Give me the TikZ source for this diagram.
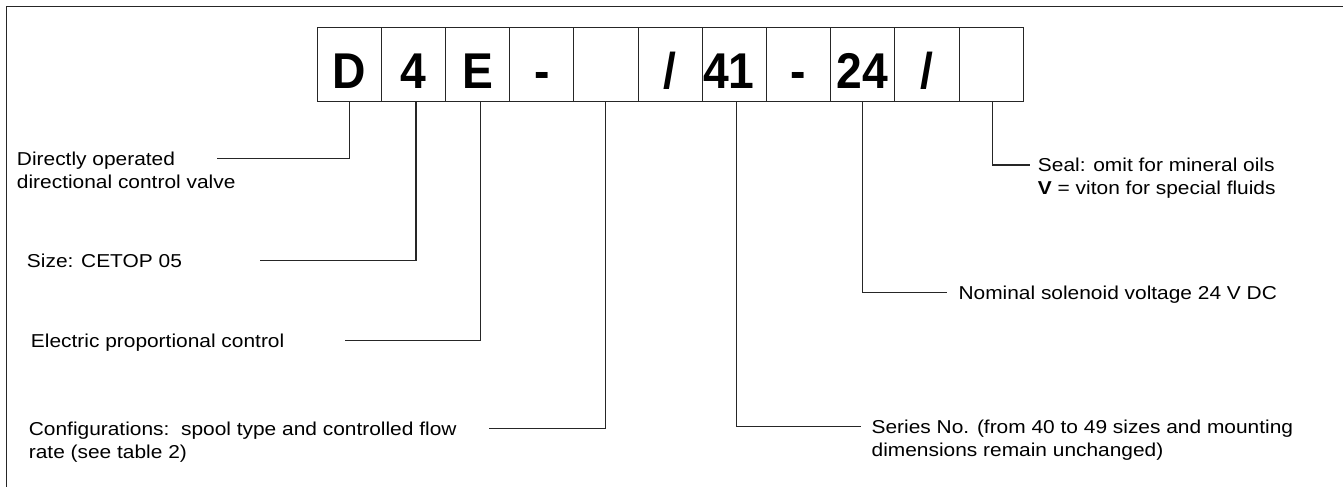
\documentclass[tikz,border=0pt]{standalone}
\usepackage{fontspec}
\setmainfont[FakeStretch=1.12]{Liberation Sans}
\newfontfamily\cellfont[FakeStretch=0.92]{Liberation Sans}
\begin{document}
\begin{tikzpicture}[x=0.75pt,y=-0.75pt]

    \tikzset{
      cell/.style={
        draw=black!85,
        line width=0.75pt,
        minimum width=48.15pt,
        minimum height=55.5pt,
        inner sep=0pt,
        text height=35.5pt,
        text depth=0pt,
        font=\cellfont\bfseries\fontsize{37.7}{40}\selectfont,
      },
      label/.style={
        anchor=base west,
        inner sep=0pt,
        align=left,
        font=\fontsize{14}{17.25}\selectfont,
      },
      lead/.style={
        draw=black!85,
        line width=0.8pt,
      },
    }
    \useasboundingbox (0,0) rectangle (1343,487);
	\draw[color={black!85},line width=1.1pt] (1343,6.5)--(6.7,6.5)--(6.7,487);

	\node[cell] (b1) at (349.1,64.6) {D};
	\node[cell] (b2) at (413.3,64.6) {4};
	\node[cell] (b3) at (477.5,64.6) {E};
	\node[cell] (b4) at (541.7,64.6) {-};
	\node[cell] (b5) at (605.9,64.6) {};
	\node[cell] (b6) at (670.1,64.6) {/};
	\node[cell] (b7) at (734.3,64.6) {\hspace*{-8pt}41};
	\node[cell] (b8) at (798.5,64.6) {-};
	\node[cell] (b9) at (862.7,64.6) {24};
	\node[cell] (b10) at (926.9,64.6) {/};
	\node[cell] (b11) at (991.1,64.6) {};

	\node[label] (valve) at (16.7,188.5) {Directly operated\\directional control valve};
	\node[label] (size) at (26.7,267) {Size: CETOP 05};
	\node[label] (control) at (30.7,347) {Electric proportional control};
	\node[label] (config) at (28.6,458.5) {Configurations:\ \ spool type and controlled flow\\rate (see table 2)};
	\node[label] (series) at (871.4,456.5) {Series No. (from 40 to 49 sizes and mounting\\dimensions remain unchanged)};
	\node[label] (voltage) at (958.3,299.4) {Nominal solenoid voltage 24 V DC};
	\node[label] (seal) at (1037.7,194.7) {Seal: omit for mineral oils\\\textbf{V} = viton for special fluids};

	\coordinate (cvalve) at (216.7,158.8);
	\coordinate (csize) at (260,260.5);
	\coordinate (ccontrol) at (345,340.5);
	\coordinate (cconfig) at (488.6,428.8);
	\coordinate (cseries) at (861,426.8);
	\coordinate (cvoltage) at (946.7,292.7);
	\coordinate (cseal) at (1030,165);

	\draw[lead] (b1.south) |- (cvalve);
	\draw[lead] (b2.south) ++(2.7,0) |- (csize);
	\draw[lead] (b3.south) ++(2.8,0) |- (ccontrol);
	\draw[lead] (b5.south) |- (cconfig);
	\draw[lead] (b7.south) ++(2.2,0) |- (cseries);
	\draw[lead] (b9.south) |- (cvoltage);
	\draw[lead] (b11.south) ++(1.2,0) |- (cseal);

\end{tikzpicture}
\end{document}
